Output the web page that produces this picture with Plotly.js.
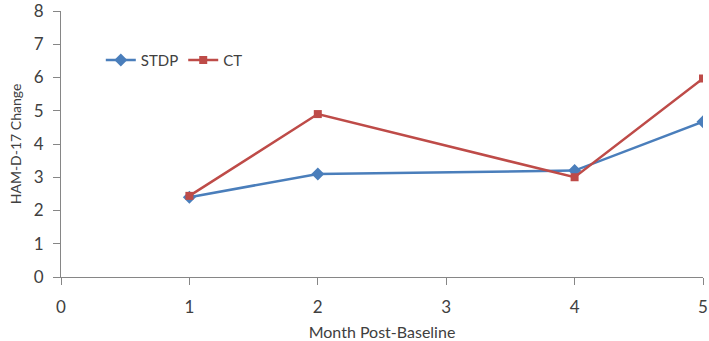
<!DOCTYPE html>
<html>
<head>
<meta charset="utf-8">
<script src="https://cdn.plot.ly/plotly-3.0.1.min.js"></script>
<style>html,body{margin:0;padding:0;background:#fff;}#chart{width:709px;height:341px;}</style>
</head>
<body>
<div id="chart"></div>
<script>
const months = [1, 2, 4, 5];
const stdp = [2.4, 3.1, 3.2, 4.67];
const ct = [2.44, 4.9, 3.0, 5.97];
const xTicks = [0, 1, 2, 3, 4, 5];
const yTicks = [0, 1, 2, 3, 4, 5, 6, 7, 8];

const font = "Lato, Open Sans, sans-serif";
const axisColor = "#868686";
const textColor = "#404040";

const traces = [
  {x: months, y: stdp, name: "STDP", mode: "lines+markers", type: "scatter",
   line: {color: "#4A7EBB", width: 2.5},
   marker: {symbol: "diamond", size: 10, color: "#4A7EBB"}},
  {x: months, y: ct, name: "CT", mode: "lines+markers", type: "scatter",
   line: {color: "#BE4B48", width: 2.5},
   marker: {symbol: "square", size: 8, color: "#BE4B48"}}
];

const layout = {
  width: 709, height: 341,
  margin: {l: 61, r: 6, t: 11, b: 64},
  paper_bgcolor: "#fff", plot_bgcolor: "#fff",
  font: {family: font, color: textColor},
  showlegend: true,
  legend: {orientation: "h", x: 0.062, y: 0.815, xanchor: "left", yanchor: "middle",
           font: {size: 15, color: textColor, family: font}, bgcolor: "rgba(0,0,0,0)",
           itemwidth: 30},
  xaxis: {range: [0, 5], tickvals: xTicks, ticktext: xTicks.map(String),
          showgrid: false, zeroline: false, showline: true, linecolor: axisColor, linewidth: 1,
          ticks: "outside", ticklen: 7, tickcolor: axisColor, ticklabelstandoff: 8,
          ticklabeloverflow: "allow",
          tickfont: {size: 17, color: textColor},
          title: {text: "Month Post-Baseline", font: {size: 16, color: textColor}, standoff: 12}},
  yaxis: {range: [0, 8], tickvals: yTicks, ticktext: yTicks.map(String),
          showgrid: false, zeroline: false, showline: true, linecolor: axisColor, linewidth: 1,
          ticks: "outside", ticklen: 7, tickcolor: axisColor, ticklabelstandoff: 6,
          ticklabeloverflow: "allow",
          tickfont: {size: 17, color: textColor},
          title: {text: "HAM-D-17 Change", font: {size: 14, color: textColor}, standoff: 8}}
};

Plotly.newPlot("chart", traces, layout, {displayModeBar: false, staticPlot: true});
</script>
</body>
</html>
